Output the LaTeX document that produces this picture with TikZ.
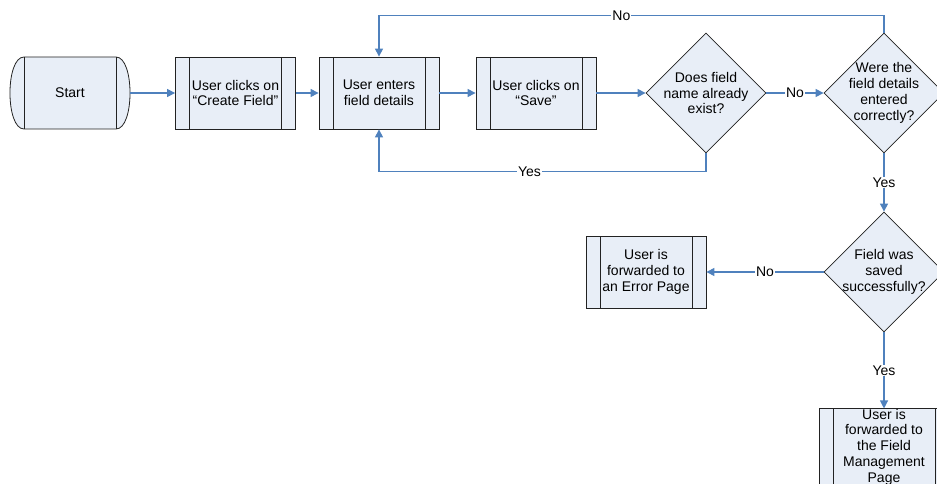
\documentclass[tikz,border=0pt]{standalone}
\usepackage{fontspec}
\setmainfont{Liberation Sans}
\usetikzlibrary{shapes.geometric,arrows.meta}
\definecolor{boxfill}{HTML}{E8EEF7}
\definecolor{flow}{HTML}{4F81BD}
\definecolor{edge}{HTML}{222222}
\begin{document}
\begin{tikzpicture}[x=1pt,y=-1pt,
  every node/.style={font=\fontsize{14}{15.8}\selectfont, align=center, text=black},
  proc/.style={rectangle, draw=edge, fill=boxfill, minimum width=120pt, minimum height=72pt,
    inner sep=0pt, line width=0.8pt,
    path picture={\draw[edge, line width=0.8pt]
      ([xshift=14pt]path picture bounding box.north west) -- ([xshift=14pt]path picture bounding box.south west)
      ([xshift=-14pt]path picture bounding box.north east) -- ([xshift=-14pt]path picture bounding box.south east);}},
  decision/.style={diamond, aspect=1, draw=edge, fill=boxfill, minimum width=120pt, minimum height=120pt,
    inner sep=0pt, line width=0.8pt},
  conn/.style={draw=flow, line width=1.1pt, -{Triangle[length=8pt,width=8pt]}},
  lbl/.style={fill=white, inner sep=1pt}]
\useasboundingbox (0,0) rectangle (937,484);
\clip (0,0) rectangle (937,484);

% start terminator
\node[minimum width=120pt, minimum height=72pt, inner sep=0pt] (start) at (70,93) {};
\draw[edge, line width=0.8pt, fill=boxfill]
  (24,57) -- (116,57) .. controls (134.7,57) and (134.7,129) .. (116,129)
  -- (24,129) .. controls (5.3,129) and (5.3,57) .. (24,57) -- cycle;
\draw[edge, line width=0.8pt] (24,57) -- (24,129) (116,57) -- (116,129);
\node at (start) {Start};

% process boxes
\node[proc] (create) at (235.5,93) {User clicks on\\``Create Field''};
\node[proc] (enter) at (379,93) {User enters\\field details};
\node[proc] (save) at (536,93) {User clicks on\\``Save''};
\node[proc] (error) at (646,272) {User is\\forwarded to\\an Error Page};
\node[proc, minimum width=130pt] (manage) at (884,447) {User is\\forwarded to\\the Field\\Management\\Page};

% decisions (fixed size; the wording is set on top so it may spill over the edges)
\node[decision] (exists) at (706,93) {};
\node at (exists) {Does field\\name already\\exist?};
\node[decision] (correct) at (884,93) {};
\node at (correct) {Were the\\field details\\entered\\correctly?};
\node[decision] (saved) at (884,272) {};
\node at (saved) {Field was\\saved\\successfully?};

% connectors
\draw[conn] (start.east) -- (create.west);
\draw[conn] (create.east) -- (enter.west);
\draw[conn] (enter.east) -- (save.west);
\draw[conn] (save.east) -- (exists.west);
\draw[conn] (exists.east) -- node[lbl] {No} (correct.west);
\draw[conn] (correct.north) -- ++(0,-17) -| node[lbl, pos=0.26] {No} (enter.north);
\draw[conn] (exists.south) -- ++(0,18) -| node[lbl, pos=0.27] {Yes} (enter.south);
\draw[conn] (correct.south) -- node[lbl] {Yes} (saved.north);
\draw[conn] (saved.west) -- node[lbl] {No} (error.east);
\draw[conn] (saved.south) -- node[lbl] {Yes} (manage.north);
\end{tikzpicture}
\end{document}
